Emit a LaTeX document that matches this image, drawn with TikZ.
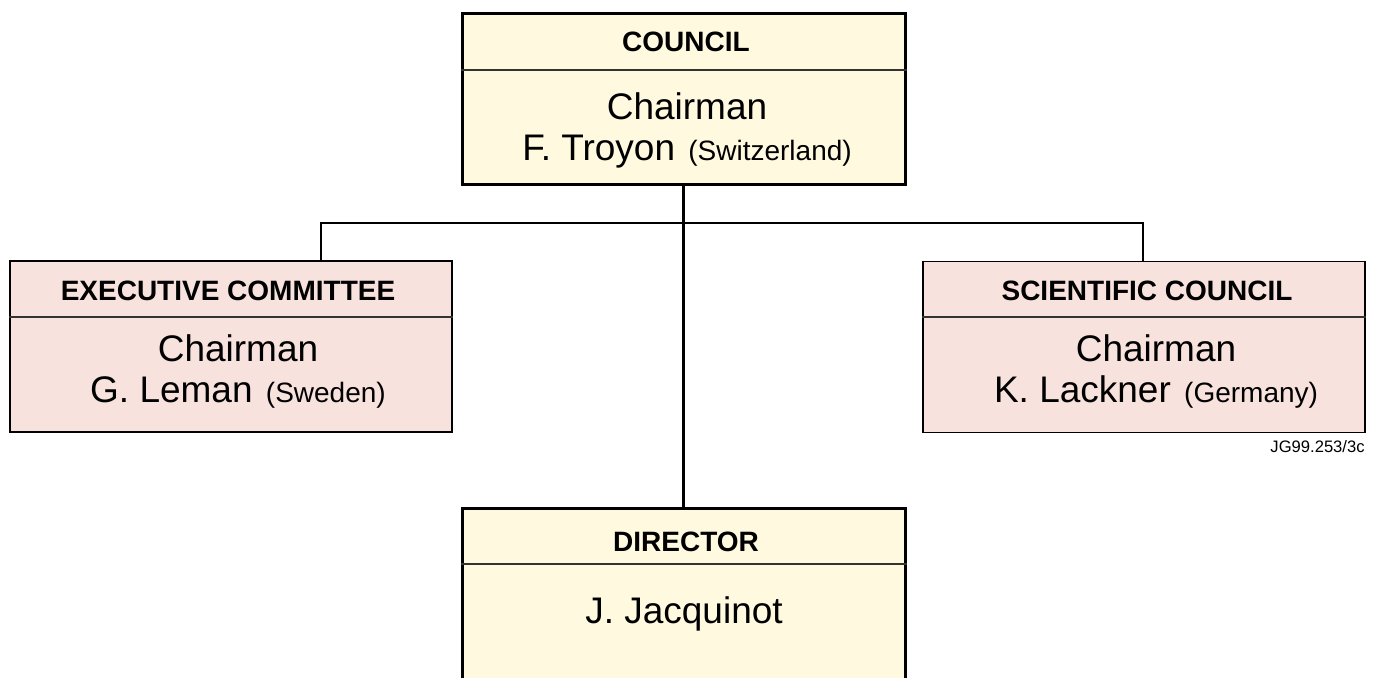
\documentclass[tikz,border=0pt]{standalone}
\usepackage{fontspec}
\setmainfont{Liberation Sans}
\definecolor{cyellow}{HTML}{FFFADF}
\definecolor{cpink}{HTML}{F8E2DD}
\newcommand\ctry[1]{\hspace{1.5pt}{\fontsize{14}{20.5}\selectfont(#1)}}
\begin{document}
\begin{tikzpicture}[x=0.5pt,y=-0.5pt,
  yellowbox/.style={draw, line width=1.5pt, fill=cyellow, minimum width=221.5pt, inner sep=0pt},
  pinkbox/.style={draw, line width=0.9pt, fill=cpink, minimum width=221pt, minimum height=85.5pt, inner sep=0pt},
  divider/.style={draw=black!80, line width=0.6pt},
  head/.style={font=\fontsize{14}{16}\selectfont\bfseries, inner sep=0pt},
  body/.style={font=\fontsize{18.5}{20.5}\selectfont, align=center, inner sep=0pt},
  thickconn/.style={line width=1.5pt},
  thinconn/.style={line width=0.9pt}]
\useasboundingbox (0,0) rectangle (1380,677);
\clip (0,0) rectangle (1380,677);
% connectors (drawn first, under boxes)
\coordinate (hl) at (321,223);
\coordinate (hr) at (1143,223);
% boxes
\node[yellowbox, minimum height=85.5pt] (council) at (683.5,98.5) {};
\node[pinkbox] (exec) at (231,346.5) {};
\node[pinkbox] (sci) at (1144,347) {};
\node[yellowbox, minimum height=96pt] (director) at (683.5,604) {};
\draw[thinconn] (hl |- exec.north) -- (hl) -- (hr) -- (hr |- sci.north);
\draw[thickconn] (council.south) -- (director.north);
% dividers
\draw[divider] (council.west |- 0,70) -- (council.east |- 0,70);
\draw[divider] (exec.west |- 0,317) -- (exec.east |- 0,317);
\draw[divider] (sci.west |- 0,317) -- (sci.east |- 0,317);
\draw[divider] (director.west |- 0,564) -- (director.east |- 0,564);
% texts
\node[head] (councilh) at (686,42) {COUNCIL};
\node[body] (councilb) at (687,130) {Chairman\\F. Troyon \ctry{Switzerland}};
\node[head] (exech) at (228,291) {EXECUTIVE COMMITTEE};
\node[body] (execb) at (238,371) {Chairman\\G. Leman \ctry{Sweden}};
\node[head] (scih) at (1147,291) {SCIENTIFIC COUNCIL};
\node[body] (scib) at (1156,371) {Chairman\\K. Lackner \ctry{Germany}};
\node[head] (directorh) at (686,542) {DIRECTOR};
\node[body] (directorb) at (684,614) {J. Jacquinot};
\node[font=\fontsize{8.3}{10}\selectfont, inner sep=0pt, anchor=east] (ref) at (1365,447) {JG99.253/3c};
\end{tikzpicture}
\end{document}
